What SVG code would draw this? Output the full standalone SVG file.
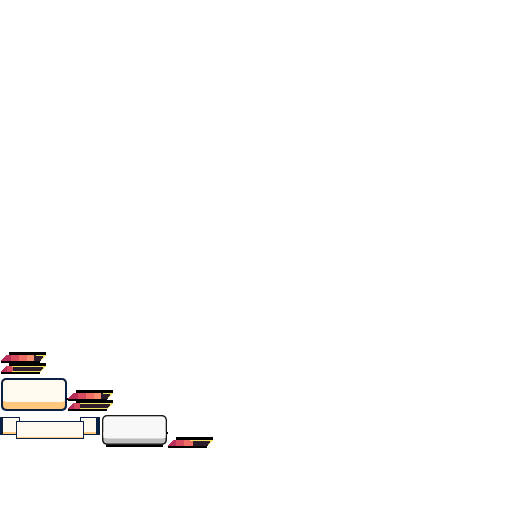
<svg xmlns="http://www.w3.org/2000/svg" width="512" height="512" viewBox="0 0 512 512">
<defs>
<style>
.blk{fill:#000}
.navy{fill:#0b2143}
.cream{fill:#fffaf0}
.orng{fill:#ffc87c}
.edge{fill:none;stroke:#f2e064;stroke-width:1}
</style>
<linearGradient id="full" x1="0" y1="0" x2="1" y2="0">
<stop offset="0" stop-color="#b8305a"/><stop offset="0.22" stop-color="#b8305a"/>
<stop offset="0.22" stop-color="#d84a5e"/><stop offset="0.4" stop-color="#d84a5e"/>
<stop offset="0.4" stop-color="#ee6c62"/><stop offset="0.58" stop-color="#ee6c62"/>
<stop offset="0.58" stop-color="#f48e6e"/><stop offset="0.74" stop-color="#f48e6e"/>
<stop offset="0.74" stop-color="#2c1c2c"/><stop offset="1" stop-color="#2c1c2c"/>
</linearGradient>
<linearGradient id="mid" x1="0" y1="0" x2="1" y2="0">
<stop offset="0" stop-color="#b8305a"/><stop offset="0.18" stop-color="#b8305a"/>
<stop offset="0.18" stop-color="#d84a5e"/><stop offset="0.36" stop-color="#d84a5e"/>
<stop offset="0.36" stop-color="#ee6c62"/><stop offset="0.55" stop-color="#ee6c62"/>
<stop offset="0.55" stop-color="#2c1c2c"/><stop offset="1" stop-color="#2c1c2c"/>
</linearGradient>
<linearGradient id="low" x1="0" y1="0" x2="1" y2="0">
<stop offset="0" stop-color="#b8305a"/><stop offset="0.14" stop-color="#b8305a"/>
<stop offset="0.14" stop-color="#d84a5e"/><stop offset="0.26" stop-color="#d84a5e"/>
<stop offset="0.26" stop-color="#2c1c2c"/><stop offset="1" stop-color="#2c1c2c"/>
</linearGradient>
<g id="barshape">
<rect class="blk" x="8" y="0" width="37" height="3"/>
<rect class="blk" x="0" y="9" width="39" height="2"/>
</g>
</defs>
<rect width="512" height="512" fill="#fff"/>

<g id="bars-a" shape-rendering="crispEdges">
<use href="#barshape" x="1" y="352"/>
<polygon points="6,355 46,355 41,361 1,361" fill="url(#full)"/>
<polyline class="edge" points="36,355.5 45,355.5 40.5,360.5"/>
<use href="#barshape" x="1" y="363"/>
<polygon points="6,366 46,366 41,372 1,372" fill="url(#low)"/>
<polyline class="edge" points="12,366.5 45,366.5 40.5,371.5 12,371.5"/>
</g>

<g id="panel">
<rect class="navy" x="1" y="378" width="66" height="33" rx="5"/>
<rect class="orng" x="3" y="380" width="62" height="29" rx="4"/>
<rect class="cream" x="3" y="380" width="62" height="22" rx="4"/>
<rect class="cream" x="3" y="395" width="62" height="6"/>
<rect class="blk" x="66" y="398" width="2" height="2"/>
</g>

<g id="bars-b" shape-rendering="crispEdges">
<use href="#barshape" x="68" y="390"/>
<polygon points="73,393 113,393 108,399 68,399" fill="url(#full)"/>
<polyline class="edge" points="103,393.5 112,393.5 107.5,398.5"/>
<use href="#barshape" x="68" y="400"/>
<polygon points="73,403 113,403 108,409 68,409" fill="url(#low)"/>
<polyline class="edge" points="80,403.5 112,403.5 107.5,408.5 80,408.5"/>
</g>

<g id="ribbon">
<rect class="navy" x="0" y="417" width="20" height="18"/>
<rect class="orng" x="3" y="418" width="16" height="16"/>
<rect class="cream" x="3" y="418" width="16" height="14"/>
<rect class="navy" x="80" y="417" width="20" height="18"/>
<rect class="orng" x="81" y="418" width="15" height="16"/>
<rect class="cream" x="81" y="418" width="15" height="14"/>
<rect class="navy" x="16" y="421" width="68" height="18"/>
<rect class="orng" x="17" y="422" width="66" height="16"/>
<rect class="cream" x="17" y="422" width="66" height="15"/>
</g>

<g id="button">
<rect class="blk" x="106" y="441" width="57" height="6"/>
<rect fill="#1a1a1a" x="102" y="415" width="65" height="30" rx="5"/>
<rect fill="#bdbdbd" x="103.5" y="416.5" width="62" height="27" rx="4"/>
<rect fill="#f8f8f8" x="103.5" y="416.5" width="62" height="22" rx="4"/>
<rect fill="#f8f8f8" x="103.5" y="432" width="62" height="6"/>
<rect class="blk" x="166" y="432" width="2" height="2"/>
</g>

<g id="bar-c" shape-rendering="crispEdges">
<use href="#barshape" x="168" y="437"/>
<polygon points="173,440 213,440 208,446 168,446" fill="url(#mid)"/>
<polyline class="edge" points="190,440.5 212,440.5 207.5,445.5"/>
</g>
</svg>
